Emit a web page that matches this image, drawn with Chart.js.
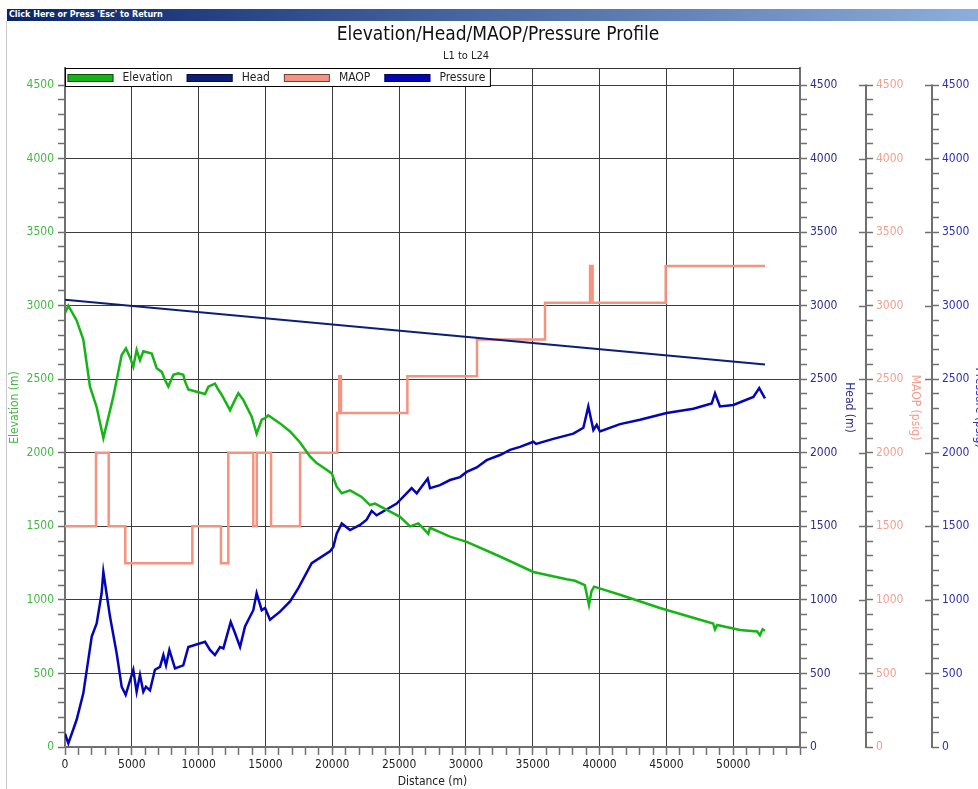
<!DOCTYPE html>
<html>
<head>
<meta charset="utf-8">
<title>Elevation/Head/MAOP/Pressure Profile</title>
<script src="https://cdn.jsdelivr.net/npm/chart.js@4.4.1/dist/chart.umd.min.js"></script>
<style>
  html, body { margin: 0; padding: 0; background: #fff; overflow: hidden; width: 978px; height: 789px; }
  #wrap { position: absolute; left: 0; top: 0; width: 1000px; height: 789px; }
  #bar { position: absolute; left: 7px; top: 9px; width: 971px; height: 12px; box-sizing: border-box; padding-left: 2px;
         background: linear-gradient(to right, #0a246a 0%, #a6caf0 120%); color: #fff;
         font: bold 8px 'DejaVu Sans', sans-serif; line-height: 12px; white-space: nowrap; }
  #edge { position: absolute; left: 6px; top: 21px; width: 1px; height: 768px; background: #c8c8c8; }
</style>
</head>
<body>
<div id="wrap"><canvas id="chart" width="1000" height="789"></canvas></div>
<div id="edge"></div>
<div id="bar">Click Here or Press 'Esc' to Return</div>
<script>
const chartEl = document.getElementById('chart');

// distance along the line (m) and the values
const elevX = [0, 250, 870, 1370, 1870, 2370, 2870, 3610, 4240, 4560, 4860, 5110, 5360, 5610, 5860, 6490, 6860, 7240, 7480, 7730,
  8110, 8480, 8850, 8980, 9230, 9850, 10480, 10730, 11220, 11470, 11720, 12350, 12720, 12970, 13340, 13970, 14340, 14720, 14970, 15210,
  16090, 16840, 17590, 18330, 18830, 19080, 19960, 20330, 20710, 21330, 22200, 22820, 23200, 25070, 25820, 26440, 27190, 27310, 28810, 30060,
  32550, 35050, 37540, 38160, 38900, 39210, 39400, 39590, 41530, 44520, 47520, 48500, 48640, 48800, 50510, 51800, 52000, 52200, 52380];
const elevY = [2950, 3000, 2900, 2770, 2450, 2310, 2100, 2380, 2665, 2710, 2650, 2585, 2700, 2630, 2690, 2675, 2575, 2550, 2495, 2450,
  2530, 2540, 2530, 2485, 2430, 2415, 2400, 2450, 2470, 2430, 2395, 2290, 2360, 2405, 2360, 2245, 2130, 2225, 2235, 2255,
  2200, 2145, 2070, 1975, 1930, 1915, 1860, 1770, 1725, 1745, 1700, 1645, 1655, 1565, 1500, 1520, 1450, 1490, 1430, 1395,
  1295, 1190, 1140, 1130, 1100, 965, 1060, 1090, 1035, 945, 865, 840, 800, 830, 795, 785, 760, 800, 790];

const headX = [0, 52380];
const headY = [3040, 2600];

const maopX = [0, 2320, 3270, 4510, 9530, 11670, 12220, 14090, 14350, 15420, 17590, 20370, 20520, 20650, 25620, 30830, 35920, 39290, 39480, 44950, 52380];
const maopY = [1500, 2000, 1500, 1250, 1500, 1250, 2000, 1500, 2000, 1500, 2000, 2270, 2520, 2270, 2520, 2770, 3020, 3270, 3020, 3270, 3270];

const pressX = [0, 250, 870, 1370, 2000, 2370, 2740, 2870, 3370, 3870, 4240, 4540, 5110, 5360, 5610, 5860, 6060, 6360, 6730, 7110,
  7360, 7560, 7810, 8230, 8850, 9230, 10480, 10850, 11220, 11600, 11850, 12400, 12720, 13100, 13470, 14090, 14340, 14720, 14970, 15340,
  16090, 16840, 17460, 18460, 19830, 20080, 20330, 20710, 21330, 22080, 22570, 22950, 23320, 24820, 25940, 26320, 27140, 27310, 28060, 28810,
  29560, 30060, 30810, 31550, 32550, 33300, 34050, 35050, 35250, 36540, 38040, 38790, 39160, 39540, 39790, 40030, 41530, 43030, 45020, 47020,
  48390, 48640, 49010, 50010, 51510, 51950, 52380];
const pressY = [90, 25, 185, 365, 750, 840, 1045, 1190, 885, 635, 410, 355, 525, 375, 490, 375, 410, 385, 525, 545,
  625, 555, 660, 535, 555, 680, 715, 660, 625, 680, 670, 850, 775, 680, 820, 930, 1045, 930, 945, 865,
  920, 990, 1080, 1250, 1330, 1360, 1450, 1520, 1475, 1510, 1545, 1605, 1575, 1655, 1760, 1725, 1825, 1760, 1780, 1815,
  1835, 1870, 1900, 1950, 1985, 2020, 2040, 2075, 2060, 2095, 2130, 2170, 2315, 2155, 2190, 2145, 2195, 2225, 2270, 2300,
  2335, 2405, 2315, 2325, 2380, 2440, 2370];

const seriesNames = ['Elevation', 'Head', 'MAOP', 'Pressure'];
const axisTitles = ['Elevation (m)', 'Head (m)', 'MAOP (psig)', 'Pressure (psig)'];
const lineColors = ['#16b416', '#0b1f78', '#f4937f', '#0505b8'];
const labelColors = ['#43b843', '#2e2e86', '#f0a08e', '#3030aa'];
const subtitleText = 'L1 to L24';

const X_MAX = 55000;
const Y_MAX = 4616;
const Y_TOP_TICK = 4500;
const FONT = "'DejaVu Sans Condensed', 'Liberation Sans', sans-serif";

function toPoints(xs, ys) {
    return xs.map((x, i) => ({x: x, y: ys[i]}));
}

Chart.defaults.font.family = FONT;
Chart.defaults.font.size = 12;

function strokeLine(ctx, x1, y1, x2, y2) {
    ctx.beginPath();
    ctx.moveTo(x1, y1);
    ctx.lineTo(x2, y2);
    ctx.stroke();
}

// subtitle sits a little left of the title's centre in the original
const subtitleLine = {
    id: 'subtitleLine',
    afterDraw(chart) {
        const tb = chart.titleBlock;
        if (!tb) return;
        const ctx = chart.ctx;
        ctx.save();
        ctx.font = '11px ' + FONT;
        ctx.fillStyle = '#222';
        ctx.textAlign = 'center';
        ctx.textBaseline = 'middle';
        ctx.fillText(subtitleText, (tb.left + tb.right) / 2 - 32, tb.top + 56);
        ctx.restore();
    }
};

// outer axes stop at 4500, legend sits in a white box over the top of the plot
const boxLegend = {
    id: 'boxLegend',
    afterDraw(chart) {
        const {ctx, chartArea} = chart;
        const left = chartArea.left, top = chartArea.top;
        ctx.save();

        ['yMaop', 'yPress'].forEach(id => {
            const s = chart.scales[id];
            ctx.strokeStyle = '#707070';
            ctx.lineWidth = 2;
            strokeLine(ctx, s.left, s.getPixelForValue(Y_TOP_TICK) - 0.5, s.left, s.getPixelForValue(0) + 1);
            ctx.lineWidth = 1.5;
            s.ticks.forEach(t => {
                if (t.value > 0 && t.value <= Y_TOP_TICK && t.value % 500 === 0) {
                    const py = Math.round(s.getPixelForValue(t.value)) + 0.5;
                    strokeLine(ctx, s.left - 7, py, s.left, py);
                }
            });
        });

        // frame line along the top of the plot
        ctx.strokeStyle = '#333';
        ctx.lineWidth = 1;
        strokeLine(ctx, left, top + 0.5, chartArea.right, top + 0.5);

        ctx.font = '12px ' + FONT;
        const widths = chart.data.datasets.map(ds => ctx.measureText(ds.label).width);
        let total = 2;
        for (let i = 0; i < widths.length; i++) {
            total += 46 + 9 + widths[i] + (i < widths.length - 1 ? 14 : 5);
        }
        ctx.fillStyle = '#fff';
        ctx.fillRect(left, top, total, 18);
        ctx.strokeStyle = '#000';
        ctx.strokeRect(left + 0.5, top + 0.5, total, 18);

        let x = left + 2.5;
        chart.data.datasets.forEach((ds, i) => {
            ctx.fillStyle = ds.borderColor;
            ctx.fillRect(x, top + 6, 46, 8);
            ctx.strokeStyle = 'rgba(0,0,0,0.55)';
            ctx.strokeRect(x + 0.5, top + 6.5, 45, 7);
            ctx.fillStyle = '#222';
            ctx.textBaseline = 'middle';
            ctx.textAlign = 'left';
            ctx.fillText(ds.label, x + 55, top + 9.5);
            x += 46 + 9 + widths[i] + 14;
        });
        ctx.restore();
    }
};

function valueAxis(i, position, width, titlePad) {
    return {
        type: 'linear',
        position: position,
        min: 0,
        max: Y_MAX,
        afterFit: function (scale) { scale.width = width; },
        ticks: {
            stepSize: 100,
            includeBounds: false,
            autoSkip: false,
            color: labelColors[i],
            padding: position === 'left' ? 4 : 3,
            callback: v => (v % 500 === 0 ? String(v) : '')
        },
        grid: {
            drawOnChartArea: i === 0,
            color: c => (c.tick && c.tick.value % 500 === 0 ? '#3c3c3c' : 'rgba(0,0,0,0)'),
            tickColor: c => (c.tick && c.tick.value > Y_TOP_TICK ? 'rgba(0,0,0,0)' : '#707070'),
            tickLength: 7,
            tickWidth: 1.5,
            lineWidth: 1
        },
        border: {display: i < 2, color: '#707070', width: 2},
        title: {
            display: true,
            text: axisTitles[i],
            color: labelColors[i],
            padding: {top: titlePad, bottom: 0}
        }
    };
}

const datasets = [
    {data: toPoints(elevX, elevY), yAxisID: 'y'},
    {data: toPoints(headX, headY), yAxisID: 'yHead'},
    {data: toPoints(maopX, maopY), yAxisID: 'yMaop', stepped: 'before'},
    {data: toPoints(pressX, pressY), yAxisID: 'yPress'}
].map((ds, i) => Object.assign(ds, {
    label: seriesNames[i],
    borderColor: lineColors[i],
    backgroundColor: lineColors[i],
    borderWidth: i === 1 ? 2 : 2.5,
    pointRadius: 0,
    tension: 0,
    fill: false
}));

new Chart(chartEl, {
    type: 'line',
    data: {datasets: datasets},
    options: {
        responsive: false,
        animation: false,
        devicePixelRatio: 1,
        layout: {padding: {left: 0, right: 4, top: 0, bottom: 0}},
        plugins: {
            legend: {display: false},
            tooltip: {enabled: false},
            title: {
                display: true,
                text: 'Elevation/Head/MAOP/Pressure Profile',
                color: '#111',
                font: {size: 19, weight: 'normal'},
                padding: {top: 23.5, bottom: 21.7}
            },
            subtitle: {display: false}
        },
        scales: {
            x: {
                type: 'linear',
                position: 'bottom',
                min: 0,
                max: X_MAX,
                afterFit: function (scale) { scale.height = 42; },
                ticks: {
                    stepSize: 1000,
                    autoSkip: false,
                    maxRotation: 0,
                    color: '#222',
                    padding: 3,
                    callback: v => (v % 5000 === 0 && v < X_MAX ? String(v) : '')
                },
                grid: {
                    color: c => (c.tick && c.tick.value % 5000 === 0 ? '#3c3c3c' : 'rgba(0,0,0,0)'),
                    tickColor: '#707070',
                    tickLength: 8,
                    tickWidth: 1.5,
                    lineWidth: 1
                },
                border: {color: '#707070', width: 2},
                title: {display: true, text: 'Distance (m)', color: '#222', padding: {top: 0, bottom: 0}}
            },
            y: valueAxis(0, 'left', 65, 8),
            yHead: valueAxis(1, 'right', 66, 10),
            yMaop: valueAxis(2, 'right', 66, 10),
            yPress: valueAxis(3, 'right', 64, 10)
        }
    },
    plugins: [boxLegend, subtitleLine]
});
</script>
</body>
</html>
